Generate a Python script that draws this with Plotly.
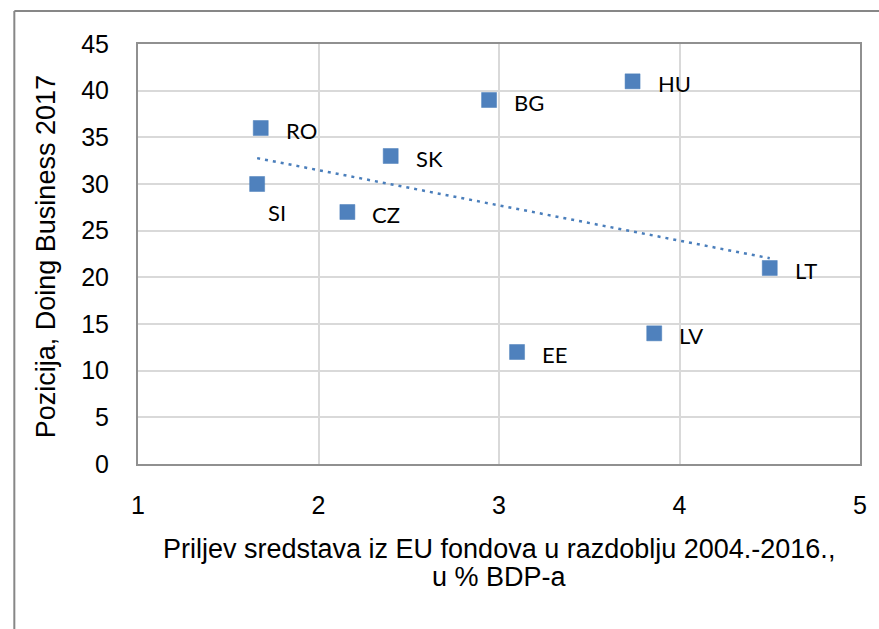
import numpy as np
import plotly.graph_objects as go

countries = ["SI", "RO", "CZ", "SK", "BG", "HU", "EE", "LV", "LT"]
eu_funds_pct_gdp = [1.66, 1.68, 2.16, 2.40, 2.945, 3.74, 3.10, 3.86, 4.50]
doing_business_rank = [30, 36, 27, 33, 39, 41, 12, 14, 21]
x_ticks = [1, 2, 3, 4, 5]
y_ticks = [0, 5, 10, 15, 20, 25, 30, 35, 40, 45]

blue = "#4A7EBB"
fig = go.Figure()

# linear trendline (least squares on the data)
xs = np.array(eu_funds_pct_gdp)
ys = np.array(doing_business_rank)
k, b = np.polyfit(xs, ys, 1)
tx = np.array([xs.min(), xs.max()])
fig.add_trace(go.Scatter(x=tx, y=k * tx + b, mode="lines",
                         line=dict(color=blue, width=2.5, dash="3px,5px"),
                         hoverinfo="skip", showlegend=False))

fig.add_trace(go.Scatter(x=eu_funds_pct_gdp, y=doing_business_rank, mode="markers",
                         marker=dict(symbol="square", size=15, color="#4F81BD",
                                     line=dict(color="#4A7EBB", width=0.5)),
                         text=countries, showlegend=False))

annotations = []
for c, xv, yv in zip(countries, eu_funds_pct_gdp, doing_business_rank):
    if c == "SI":
        annotations.append(dict(x=xv, y=yv, text=c, showarrow=False, xanchor="center",
                                yanchor="middle", xshift=20, yshift=-28,
                                font=dict(family="Lato", size=22, color="black")))
    else:
        annotations.append(dict(x=xv, y=yv, text=c, showarrow=False, xanchor="left",
                                yanchor="middle", xshift=23, yshift=-2,
                                font=dict(family="Lato", size=22, color="black")))

title_font = dict(family="Liberation Sans, Arial", size=27, color="black")
annotations += [
    dict(xref="paper", yref="paper", x=-0.127, y=0.493, text="Pozicija, Doing Business 2017",
         textangle=-90, showarrow=False, xanchor="center", yanchor="middle", font=title_font),
    dict(xref="paper", yref="paper", x=0.5, y=-0.2024,
         text="Priljev sredstava iz EU fondova u razdoblju 2004.-2016.,",
         showarrow=False, xanchor="center", yanchor="middle", font=title_font),
    dict(xref="paper", yref="paper", x=0.5, y=-0.269, text="u % BDP-a",
         showarrow=False, xanchor="center", yanchor="middle", font=title_font),
]

shapes = [
    dict(type="line", xref="paper", yref="paper", x0=-0.1713, x1=1.03, y0=1.0786, y1=1.0786,
         line=dict(color="#878787", width=2)),
    dict(type="line", xref="paper", yref="paper", x0=-0.1713, x1=-0.1713, y0=1.0786, y1=-0.40,
         line=dict(color="#878787", width=2)),
]

tick_font = dict(family="Liberation Sans, Arial", size=25, color="black")
fig.update_layout(
    width=879, height=629,
    margin=dict(l=138, r=17, t=44, b=165),
    paper_bgcolor="white", plot_bgcolor="white",
    annotations=annotations, shapes=shapes,
    xaxis=dict(range=[1, 5], tickvals=x_ticks, ticktext=[str(v) for v in x_ticks],
               showgrid=True, gridcolor="#D9D9D9", gridwidth=2, zeroline=False,
               showline=True, linecolor="#909090", linewidth=2, mirror=True,
               ticks="", tickfont=tick_font, ticklabelstandoff=18),
    yaxis=dict(range=[0, 45], tickvals=y_ticks, ticktext=[str(v) for v in y_ticks],
               showgrid=True, gridcolor="#D9D9D9", gridwidth=2, zeroline=False,
               showline=True, linecolor="#909090", linewidth=2, mirror=True,
               ticks="", tickfont=tick_font, ticklabelstandoff=22),
)

fig.write_html("out.html", config={"displayModeBar": False},
               post_script="document.body.style.margin='0px';document.body.style.overflow='hidden';")
